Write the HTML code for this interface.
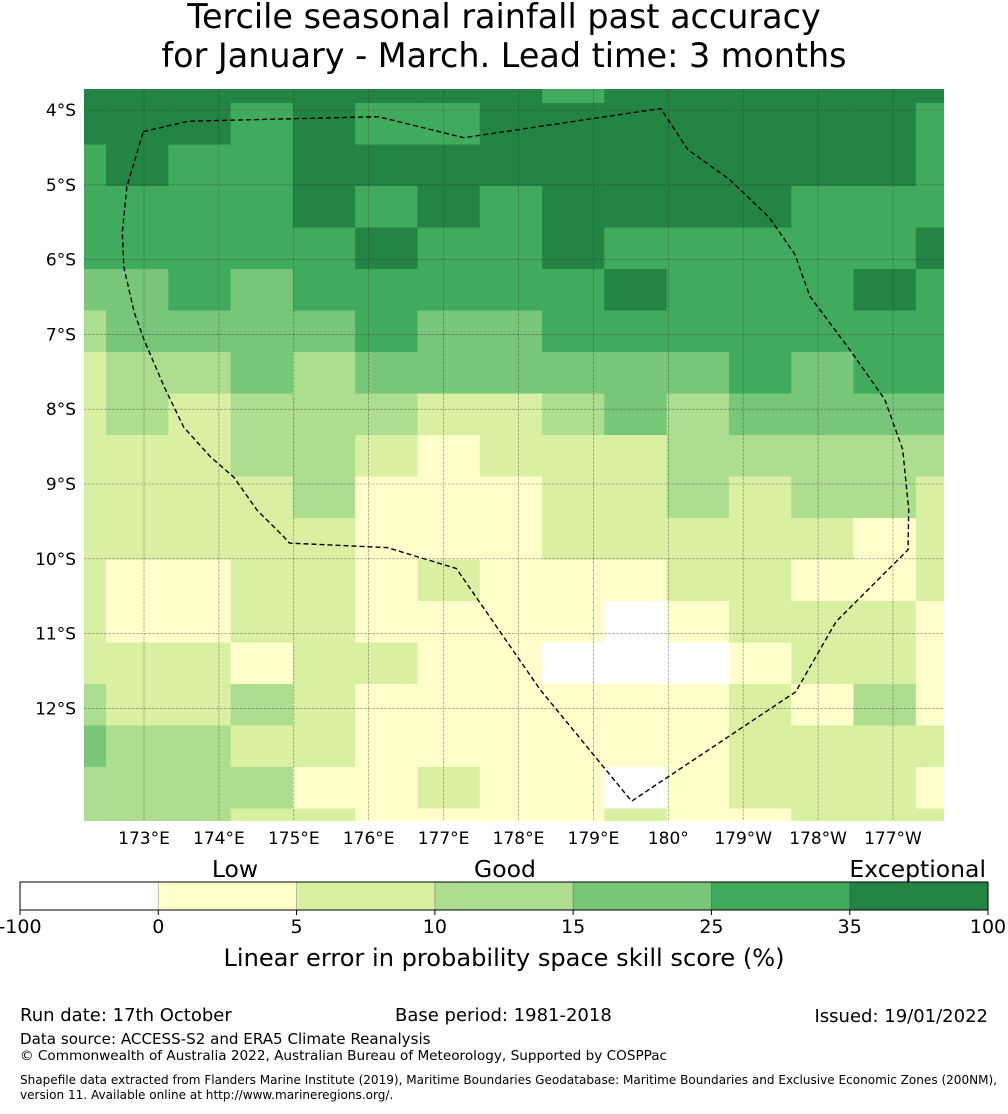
<!DOCTYPE html>
<html><head><meta charset="utf-8">
<style>
html,body{margin:0;padding:0;background:#fff;}
body{width:1008px;height:1110px;overflow:hidden;font-family:"DejaVu Sans","Liberation Sans",sans-serif;}
svg text{font-family:"DejaVu Sans","Liberation Sans",sans-serif;fill:#000;}
</style></head>
<body>
<svg id="chart" width="1008" height="1110" viewBox="0 0 1008 1110" xmlns="http://www.w3.org/2000/svg">
<defs><clipPath id="mapclip"><rect x="84" y="89" width="860" height="732"/></clipPath></defs>
<text x="504" y="28" font-size="33.4" text-anchor="middle">Tercile seasonal rainfall past accuracy</text>
<text x="504" y="67" font-size="33.4" text-anchor="middle">for January - March. Lead time: 3 months</text>
<g id="cells" clip-path="url(#mapclip)"></g>
<g id="grid" clip-path="url(#mapclip)"></g>
<g id="eez" clip-path="url(#mapclip)"></g>
<g id="axes"></g>
<g id="cbar"></g>
<text x="235" y="877" font-size="23.5" text-anchor="middle">Low</text>
<text x="505" y="877" font-size="23.5" text-anchor="middle">Good</text>
<text x="986" y="877" font-size="23.5" text-anchor="end">Exceptional</text>
<text x="504" y="966" font-size="24.1" text-anchor="middle">Linear error in probability space skill score (%)</text>
<text x="20" y="1021" font-size="18">Run date: 17th October</text>
<text x="395" y="1021" font-size="18">Base period: 1981-2018</text>
<text x="988" y="1022" font-size="18" text-anchor="end">Issued: 19/01/2022</text>
<text x="20" y="1044" font-size="15.1">Data source: ACCESS-S2 and ERA5 Climate Reanalysis</text>
<text x="20" y="1060" font-size="13.6">© Commonwealth of Australia 2022, Australian Bureau of Meteorology, Supported by COSPPac</text>
<text x="20" y="1084" font-size="12.05">Shapefile data extracted from Flanders Marine Institute (2019), Maritime Boundaries Geodatabase: Maritime Boundaries and Exclusive Economic Zones (200NM),</text>
<text x="20" y="1099" font-size="12.05">version 11. Available online at http://www.marineregions.org/.</text>
</svg>
<script>
// ---- data ----
const classColors = ["#ffffff","#ffffcc","#d9f0a3","#addd8e","#78c679","#41ab5d","#238443"];
const boundaryLabels = ["-100","0","5","10","15","25","35","100"];
const latTicks = [4,5,6,7,8,9,10,11,12];
const lonTicks = [173,174,175,176,177,178,179,180,181,182,183];
const lonTickLabels = ["173°E","174°E","175°E","176°E","177°E","178°E","179°E","180°","179°W","178°W","177°W"];
const gridLon0 = 171.661, gridLonStep = 0.8317;
const gridLat0 = 3.352, gridLatStep = 0.5548;
const skillClass = [
[6,6,6,6,6,6,6,6,5,6,6,6,6,6,6],
[6,6,6,5,6,5,5,6,6,6,6,6,6,6,5],
[5,6,5,5,6,6,6,6,6,6,6,6,6,6,5],
[5,5,5,5,6,5,6,5,6,6,6,6,5,5,5],
[5,5,5,5,5,6,5,5,6,5,5,5,5,5,6],
[4,4,5,4,5,5,5,5,5,6,5,5,5,6,5],
[3,4,4,4,4,5,4,4,5,5,5,5,5,5,5],
[2,3,3,4,3,4,4,4,4,4,4,5,4,5,5],
[2,3,2,3,3,3,2,2,3,4,3,4,4,4,4],
[2,2,2,3,3,2,1,2,2,2,3,3,3,3,3],
[2,2,2,2,3,1,1,1,2,2,3,2,3,3,2],
[2,2,2,2,2,1,1,1,2,2,2,2,2,1,2],
[2,1,1,2,2,1,2,1,1,1,2,2,1,1,2],
[2,1,1,2,2,1,1,1,1,0,1,2,2,2,1],
[2,2,2,1,2,2,1,1,0,0,0,1,2,2,1],
[3,2,2,3,2,1,1,1,1,1,1,2,1,3,1],
[4,3,3,2,2,1,1,1,1,1,1,2,2,2,2],
[3,3,3,3,1,1,2,1,1,0,1,2,2,2,1],
[3,3,3,2,2,1,1,1,1,2,1,1,2,2,2]
];
// EEZ boundary (lon east-positive continuing past 180, lat south positive)
const eezLon = [172.99,173.59,176.13,177.27,179.90,180.26,180.82,181.35,181.69,181.89,182.42,182.89,183.13,183.21,183.20,182.24,181.70,179.51,178.29,177.17,176.25,174.94,174.87,174.51,174.20,173.89,173.53,173.27,173.00,172.87,172.73,172.71,172.77,172.99];
const eezLat = [4.29,4.15,4.09,4.37,3.98,4.53,4.93,5.44,5.93,6.49,7.20,7.87,8.54,9.34,9.88,10.84,11.78,13.24,11.75,10.13,9.85,9.79,9.71,9.35,8.91,8.64,8.24,7.70,7.07,6.71,6.10,5.64,5.03,4.29];

// ---- axis functions ----
const X = lon => 144 + (lon - 173) * 74.9;
const Y = lat => 110 + (lat - 4) * 74.8;
const NS = "http://www.w3.org/2000/svg";
function mk(tag, attrs, parent){const e=document.createElementNS(NS,tag);for(const k in attrs)e.setAttribute(k,attrs[k]);parent.appendChild(e);return e;}

const cells = document.getElementById('cells');
skillClass.forEach((row, r) => {
  row.forEach((c, ci) => {
    const x0 = X(gridLon0 + ci*gridLonStep), x1 = X(gridLon0 + (ci+1)*gridLonStep);
    const y0 = Y(gridLat0 + r*gridLatStep), y1 = Y(gridLat0 + (r+1)*gridLatStep);
    const el = mk('rect',{x:x0,y:y0,width:x1-x0+0.6,height:y1-y0+0.6,fill:classColors[c]},cells);
    
    
  });
});

const grid = document.getElementById('grid');
latTicks.forEach(t => {
  const el = mk('line',{x1:84,x2:944,y1:Y(t),y2:Y(t),stroke:'#333','stroke-width':0.6,'stroke-dasharray':'3,1','stroke-opacity':0.55},grid);
  
  
});
lonTicks.forEach(t => {
  const el = mk('line',{x1:X(t),x2:X(t),y1:89,y2:821,stroke:'#333','stroke-width':0.6,'stroke-dasharray':'3,1','stroke-opacity':0.55},grid);
  
  
});

const eez = document.getElementById('eez');
const pts = eezLon.map((l,i)=>X(l).toFixed(1)+','+Y(eezLat[i]).toFixed(1)).join(' ');
const eezLine = mk('polyline',{points:pts,fill:'none',stroke:'#000','stroke-width':1.4,'stroke-dasharray':'5,3'},eez);



const axes = document.getElementById('axes');
latTicks.forEach(t => {
  const el = mk('text',{x:76,y:Y(t)+6,'font-size':17,'text-anchor':'end'},axes);
  el.textContent = t + '°S';
  
  
});
lonTicks.forEach((t,i) => {
  const el = mk('text',{x:X(t),y:844,'font-size':17,'text-anchor':'middle'},axes);
  el.textContent = lonTickLabels[i];
  
  
});

const cbar = document.getElementById('cbar');
const cbX0 = 20, cbW = 968, nSeg = classColors.length, segW = cbW / nSeg;
classColors.forEach((col,i) => {
  const el = mk('rect',{x:cbX0+i*segW,y:882,width:segW,height:28,fill:col},cbar);
  
  
  if(i>0){ mk('line',{x1:cbX0+i*segW,x2:cbX0+i*segW,y1:882,y2:910,stroke:'#000','stroke-opacity':0.25,'stroke-width':1},cbar); }
});
mk('rect',{x:cbX0,y:882,width:cbW,height:28,fill:'none',stroke:'#000','stroke-width':1},cbar);
boundaryLabels.forEach((lab,i) => {
  const x = cbX0 + i*segW;
  mk('line',{x1:x,x2:x,y1:910,y2:915,stroke:'#000','stroke-width':1},cbar);
  const el = mk('text',{x:x,y:933,'font-size':19,'text-anchor':'middle'},cbar);
  el.textContent = lab;
  
  
});
</script>
</body></html>
